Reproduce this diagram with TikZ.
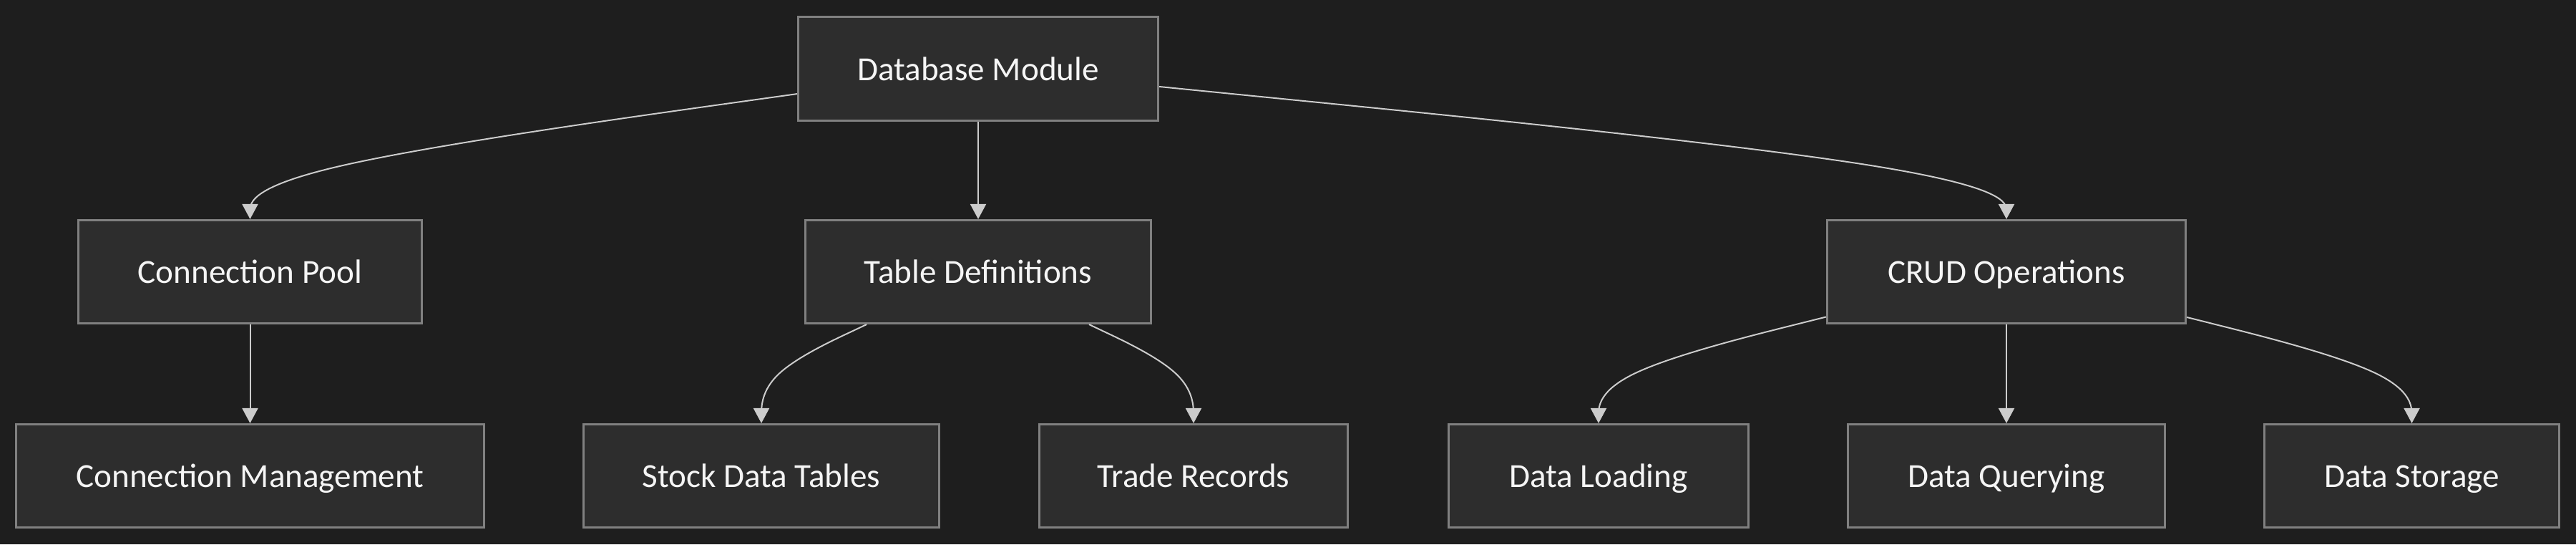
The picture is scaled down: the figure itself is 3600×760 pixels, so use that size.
\documentclass[tikz,border=0pt]{standalone}
\usepackage{fontspec}
\setmainfont{Carlito}
\usetikzlibrary{arrows.meta}
\definecolor{bgc}{RGB}{30,30,30}
\definecolor{boxfill}{RGB}{45,45,45}
\definecolor{boxline}{RGB}{128,128,128}
\definecolor{edgec}{RGB}{204,204,204}
\definecolor{txtc}{RGB}{245,245,245}
\begin{document}
\begin{tikzpicture}[x=0.01cm,y=-0.01cm,
  box/.style={draw=boxline,fill=boxfill,line width=0.03cm,inner sep=0pt,
    minimum height=1.44cm,text height=0.32cm,text depth=0pt,text=txtc,
    font=\fontsize{13.4pt}{16pt}\selectfont},
  link/.style={draw=edgec,line width=0.02cm,-{Triangle[length=0.21cm,width=0.22cm]}}]
\fill[bgc] (0,0) rectangle (3600,760);
\useasboundingbox (0,0) rectangle (3600,760);
% top row
\node[box,minimum width=5.03cm] (db) at (1367,96) {Database Module};
% middle row
\node[box,minimum width=4.80cm] (cp) at (349.5,379.5) {Connection Pool};
\node[box,minimum width=4.82cm] (td) at (1367,379.5) {Table Definitions};
\node[box,minimum width=5.01cm] (crud) at (2804,379.5) {CRUD Operations};
% bottom row
\node[box,minimum width=6.54cm] (cm) at (349.5,664.5) {Connection Management};
\node[box,minimum width=4.97cm] (sdt) at (1064,664.5) {Stock Data Tables};
\node[box,minimum width=4.31cm] (tr) at (1668,664.5) {Trade Records};
\node[box,minimum width=4.19cm] (dl) at (2234,664.5) {Data Loading};
\node[box,minimum width=4.42cm] (dq) at (2804,664.5) {Data Querying};
\node[box,minimum width=4.12cm] (ds) at (3370.5,664.5) {Data Storage};
% edges
\draw[link] (db) -- (986.6,148.8) .. controls (859.2,166.7) and (604.3,202.3) .. (476.9,231.5)
  .. controls (349.5,260.7) and (349.5,283.3) .. (349.5,294.7) -- (cp.north);
\draw[link] (db.south) -- (td.north);
\draw[link] (db) -- (1817.3,140.5) .. controls (2014.7,160) and (2409.3,199) .. (2606.7,229.8)
  .. controls (2804,260.7) and (2804,283.3) .. (2804,294.7) -- (crud.north);
\draw[link] (cp.south) -- (cm.north);
\draw[link] (td) -- (1186.7,464.5) .. controls (1162.1,476) and (1113.1,499) .. (1088.5,522)
  .. controls (1064,545) and (1064,568) .. (1064,579.5) -- (sdt.north);
\draw[link] (td) -- (1546.2,464.5) .. controls (1570.5,476) and (1619.3,499) .. (1643.6,522)
  .. controls (1668,545) and (1668,568) .. (1668,579.5) -- (tr.north);
\draw[link] (crud) -- (2499,455.75) .. controls (2446,469) and (2340,495.5) .. (2287,520.25)
  .. controls (2234,545) and (2234,568) .. (2234,579.5) -- (dl.north);
\draw[link] (crud.south) -- (dq.north);
\draw[link] (crud) -- (3108.4,456.1) .. controls (3160.8,469.3) and (3265.7,495.6) .. (3318.1,520.3)
  .. controls (3370.5,545) and (3370.5,568) .. (3370.5,579.5) -- (ds.north);
\end{tikzpicture}
\end{document}
